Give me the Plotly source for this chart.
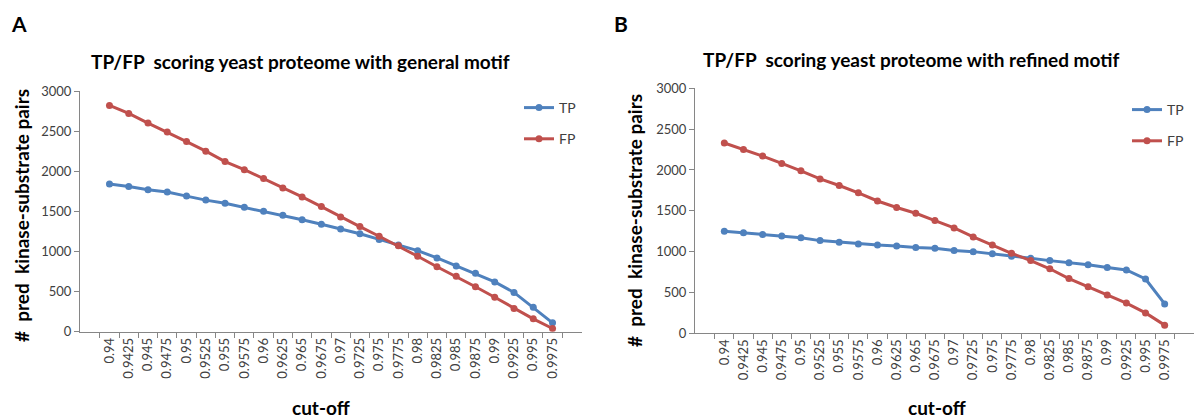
import plotly.graph_objects as go

cutoffs = ["0.94", "0.9425", "0.945", "0.9475", "0.95", "0.9525", "0.955", "0.9575",
           "0.96", "0.9625", "0.965", "0.9675", "0.97", "0.9725", "0.975", "0.9775",
           "0.98", "0.9825", "0.985", "0.9875", "0.99", "0.9925", "0.995", "0.9975"]

tp_general = [1840, 1810, 1770, 1740, 1690, 1640, 1600, 1550, 1500, 1450, 1395, 1340,
              1280, 1220, 1150, 1080, 1010, 920, 820, 730, 620, 490, 305, 110]
fp_general = [2820, 2720, 2600, 2490, 2370, 2250, 2120, 2020, 1910, 1790, 1680, 1560,
              1430, 1310, 1190, 1070, 940, 810, 690, 560, 430, 290, 160, 40]

tp_refined = [1250, 1230, 1210, 1190, 1170, 1135, 1115, 1095, 1080, 1070, 1050, 1040,
              1015, 1000, 975, 945, 920, 890, 865, 840, 805, 775, 665, 360]
fp_refined = [2330, 2250, 2170, 2080, 1990, 1890, 1810, 1720, 1620, 1540, 1470, 1380,
              1290, 1180, 1080, 980, 890, 790, 670, 570, 470, 370, 250, 100]

y_ticks = [0, 500, 1000, 1500, 2000, 2500, 3000]

BLUE = "#4F81BD"
RED = "#C0504D"
FONT = "Lato, Open Sans, sans-serif"
W, H = 1194, 419

def fx(px):
    return min(px / W, 1.0)

def fy(py):
    return 1 - py / H

fig = go.Figure()

def add(x, y, name, color, xa, ya, legend, group):
    fig.add_trace(go.Scatter(
        x=x, y=y, name=name, mode="lines+markers",
        line=dict(color=color, width=3),
        marker=dict(color=color, size=7),
        xaxis=xa, yaxis=ya, legend=legend, legendgroup=group,
    ))

add(cutoffs, tp_general, "TP", BLUE, "x", "y", "legend", "a1")
add(cutoffs, fp_general, "FP", RED, "x", "y", "legend", "a2")
add(cutoffs, tp_refined, "TP", BLUE, "x2", "y2", "legend2", "b1")
add(cutoffs, fp_refined, "FP", RED, "x2", "y2", "legend2", "b2")

axis_common = dict(
    showline=True, linecolor="#868686", linewidth=1, showgrid=False, zeroline=False,
    ticks="outside", ticklen=5, tickcolor="#868686",
    tickfont=dict(family=FONT, size=13, color="#404040"), automargin=False,
)

legend_common = dict(xanchor="left", yanchor="top", bgcolor="rgba(0,0,0,0)",
                     tracegroupgap=10, traceorder="grouped",
                     font=dict(family=FONT, size=14, color="#404040"))

fig.update_layout(
    width=W, height=H, margin=dict(l=0, r=0, t=0, b=0),
    paper_bgcolor="white", plot_bgcolor="white",
    font=dict(family=FONT, color="#000000"),
    xaxis=dict(domain=[fx(80), fx(582)], anchor="y", type="category",
               tickangle=-90, tickson="boundaries", **axis_common),
    yaxis=dict(domain=[fy(331.7), fy(91)], anchor="x", range=[0, 3000],
               tickvals=y_ticks, **axis_common),
    xaxis2=dict(domain=[fx(695), fx(1195)], anchor="y2", type="category",
                tickangle=-90, tickson="boundaries", **axis_common),
    yaxis2=dict(domain=[fy(333.3), fy(88.3)], anchor="x2", range=[0, 3000],
                tickvals=y_ticks, **axis_common),
    legend=dict(x=fx(519), y=fy(92), **legend_common),
    legend2=dict(x=fx(1127), y=fy(94), **legend_common),
    showlegend=True,
)

def ann(text, x, y, size, angle=0):
    fig.add_annotation(text=text, x=fx(x), y=fy(y), xref="paper", yref="paper",
                       showarrow=False, textangle=angle, xanchor="center", yanchor="middle",
                       font=dict(family=FONT, size=size, color="#000000"))

ann("<b>A</b>", 19, 24, 21)
ann("<b>B</b>", 621, 24, 21)
ann("<b>TP/FP  scoring yeast proteome with general motif</b>", 300, 62, 19)
ann("<b>TP/FP  scoring yeast proteome with refined motif</b>", 911, 60, 19)
ann("<b>#  pred  kinase-substrate pairs</b>", 21, 216, 19, -90)
ann("<b>#  pred  kinase-substrate pairs</b>", 635, 221, 19, -90)
ann("<b>cut-off</b>", 321, 407, 19)
ann("<b>cut-off</b>", 937, 407, 19)

fig.write_html("out.html", config={"displayModeBar": False},
               post_script="document.body.style.margin='0';")
